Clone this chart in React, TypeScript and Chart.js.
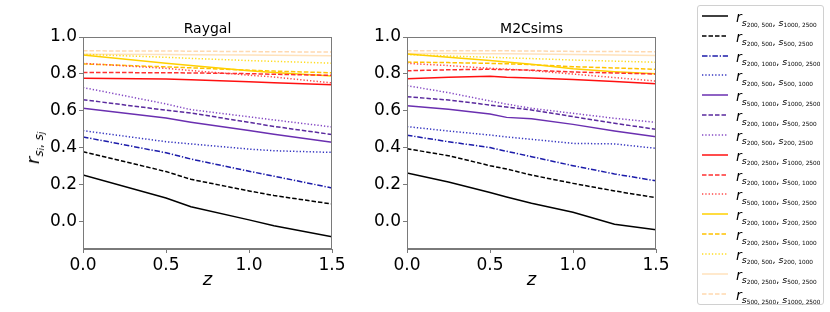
import React, { useEffect, useRef } from "react";
import { Chart, registerables } from "chart.js";

Chart.register(...registerables);

// ---- data ----
const RAYGAL_Z = [0, 0.5, 0.65, 1.0, 1.15, 1.5];
const M2C_Z = [0, 0.25, 0.5, 0.6, 0.75, 1.0, 1.25, 1.5];

const Y_TICKS = [0, 0.2, 0.4, 0.6, 0.8, 1.0];
const X_TICKS = [0, 0.5, 1.0, 1.5];

// Raygal series (legend order)
const ray01 = [0.251, 0.127, 0.079, 0.008, -0.024, -0.083];
const ray02 = [0.378, 0.27, 0.228, 0.165, 0.14, 0.094];
const ray03 = [0.458, 0.372, 0.338, 0.272, 0.245, 0.181];
const ray04 = [0.492, 0.432, 0.42, 0.392, 0.383, 0.374];
const ray05 = [0.613, 0.56, 0.538, 0.493, 0.472, 0.429];
const ray06 = [0.66, 0.603, 0.588, 0.537, 0.515, 0.471];
const ray07 = [0.726, 0.637, 0.606, 0.567, 0.55, 0.512];
const ray08 = [0.776, 0.772, 0.768, 0.757, 0.752, 0.741];
const ray09 = [0.808, 0.806, 0.805, 0.801, 0.798, 0.792];
const ray10 = [0.857, 0.83, 0.818, 0.793, 0.783, 0.751];
const ray11 = [0.902, 0.857, 0.845, 0.817, 0.807, 0.788];
const ray12 = [0.854, 0.838, 0.833, 0.82, 0.815, 0.806];
const ray13 = [0.906, 0.89, 0.884, 0.872, 0.868, 0.858];
const ray14 = [0.907, 0.905, 0.904, 0.902, 0.901, 0.898];
const ray15 = [0.925, 0.924, 0.923, 0.921, 0.92, 0.918];

// M2Csims series (legend order)
const m2c01 = [0.262, 0.213, 0.156, 0.132, 0.098, 0.049, -0.016, -0.045];
const m2c02 = [0.394, 0.356, 0.302, 0.284, 0.251, 0.206, 0.165, 0.128];
const m2c03 = [0.467, 0.432, 0.4, 0.38, 0.351, 0.302, 0.257, 0.22];
const m2c04 = [0.514, 0.49, 0.468, 0.458, 0.445, 0.423, 0.42, 0.396];
const m2c05 = [0.627, 0.608, 0.582, 0.564, 0.557, 0.526, 0.49, 0.459];
const m2c06 = [0.676, 0.658, 0.631, 0.62, 0.604, 0.568, 0.532, 0.499];
const m2c07 = [0.736, 0.698, 0.653, 0.636, 0.613, 0.586, 0.559, 0.537];
const m2c08 = [0.774, 0.782, 0.787, 0.782, 0.778, 0.77, 0.758, 0.747];
const m2c09 = [0.817, 0.822, 0.825, 0.823, 0.82, 0.81, 0.805, 0.799];
const m2c10 = [0.857, 0.845, 0.83, 0.826, 0.818, 0.799, 0.78, 0.761];
const m2c11 = [0.908, 0.89, 0.872, 0.865, 0.852, 0.828, 0.812, 0.8];
const m2c12 = [0.864, 0.861, 0.857, 0.855, 0.85, 0.839, 0.832, 0.825];
const m2c13 = [0.905, 0.897, 0.89, 0.887, 0.883, 0.875, 0.869, 0.863];
const m2c14 = [0.91, 0.91, 0.909, 0.909, 0.908, 0.905, 0.902, 0.9];
const m2c15 = [0.926, 0.926, 0.925, 0.925, 0.924, 0.922, 0.921, 0.92];

// legend labels: [first pair, second pair]
const LABELS: [string, string][] = [
  ["200, 500", "1000, 2500"],
  ["200, 500", "500, 2500"],
  ["200, 1000", "1000, 2500"],
  ["200, 500", "500, 1000"],
  ["500, 1000", "1000, 2500"],
  ["200, 1000", "500, 2500"],
  ["200, 500", "200, 2500"],
  ["200, 2500", "1000, 2500"],
  ["200, 1000", "500, 1000"],
  ["500, 1000", "500, 2500"],
  ["200, 1000", "200, 2500"],
  ["200, 2500", "500, 1000"],
  ["200, 500", "200, 1000"],
  ["200, 2500", "500, 2500"],
  ["500, 2500", "1000, 2500"],
];

const COLORS = [
  "#000000", "#000000", "#1c1caa", "#3434c0",
  "#6a2fb0", "#5a2a9e", "#8448c4",
  "#ff1010", "#ff3030", "#ff4848",
  "#ffd000", "#ffc200", "#ffdc20",
  "#ffe2bc", "#ffd9b0",
];
const STYLES = [
  "solid", "dashed", "dashdot", "dotted",
  "solid", "dashed", "dotted",
  "solid", "dashed", "dotted",
  "solid", "dashed", "dotted",
  "solid", "dashed",
];

const RAYGAL_SERIES = [ray01, ray02, ray03, ray04, ray05, ray06, ray07, ray08, ray09, ray10, ray11, ray12, ray13, ray14, ray15];
const M2C_SERIES = [m2c01, m2c02, m2c03, m2c04, m2c05, m2c06, m2c07, m2c08, m2c09, m2c10, m2c11, m2c12, m2c13, m2c14, m2c15];

const DASHES: Record<string, number[]> = {
  solid: [],
  dashed: [4.5, 2],
  dotted: [1.3, 2],
  dashdot: [5.5, 1.8, 1.3, 1.8],
};

const FONT = "'DejaVu Sans', sans-serif";
const SPINE = "#7a7a7a";

const frameBox = {
  id: "frameBox",
  afterDraw(chart: any) {
    const { ctx, chartArea } = chart;
    ctx.save();
    ctx.strokeStyle = SPINE;
    ctx.lineWidth = 1;
    ctx.strokeRect(
      Math.round(chartArea.left) + 0.5,
      Math.round(chartArea.top) + 0.5,
      Math.round(chartArea.right - chartArea.left) - 1,
      Math.round(chartArea.bottom - chartArea.top) - 1
    );
    ctx.restore();
  },
};

function Panel(props: {
  z: number[];
  series: number[][];
  left: number;
  width: number;
  axisWidth: number;
  rightPad: number;
}) {
  const ref = useRef<HTMLCanvasElement>(null);
  useEffect(() => {
    const datasets = props.series.map((vals, i) => ({
      label: LABELS[i].join(" / "),
      data: vals.map((v, k) => ({ x: props.z[k], y: v })),
      borderColor: COLORS[i],
      backgroundColor: COLORS[i],
      borderWidth: 1.5,
      borderDash: DASHES[STYLES[i]],
      pointRadius: 0,
      tension: 0,
      fill: false,
    }));
    const chart = new Chart(ref.current as HTMLCanvasElement, {
      type: "line",
      data: { datasets },
      plugins: [frameBox],
      options: {
        responsive: false,
        animation: false,
        layout: { padding: { top: 37, right: props.rightPad, left: 0, bottom: 0 } },
        plugins: { legend: { display: false }, tooltip: { enabled: false } },
        scales: {
          x: {
            type: "linear",
            min: 0,
            max: 1.5,
            afterBuildTicks: (s: any) => {
              s.ticks = X_TICKS.map((v) => ({ value: v }));
            },
            afterFit: (s: any) => {
              s.height = 63;
            },
            ticks: {
              color: "#000",
              font: { family: FONT, size: 17 },
              padding: 2,
              maxRotation: 0,
              autoSkip: false,
              callback: (v: any) => Number(v).toFixed(1),
            },
            grid: { drawOnChartArea: false, drawTicks: true, tickLength: 4, color: SPINE },
            border: { color: SPINE },
            title: {
              display: true,
              text: "z",
              color: "#000",
              font: { family: FONT, size: 18, style: "italic" },
              padding: { top: 0, bottom: 21 },
            },
          },
          y: {
            type: "linear",
            min: -0.15,
            max: 1.0,
            afterBuildTicks: (s: any) => {
              s.ticks = Y_TICKS.map((v) => ({ value: v }));
            },
            afterFit: (s: any) => {
              s.width = props.axisWidth;
            },
            ticks: {
              color: "#000",
              font: { family: FONT, size: 17 },
              padding: 2,
              autoSkip: false,
              callback: (v: any) => Number(v).toFixed(1),
            },
            grid: { drawOnChartArea: false, drawTicks: true, tickLength: 4, color: SPINE },
            border: { color: SPINE },
          },
        },
      } as any,
    });
    return () => chart.destroy();
  }, []);
  return (
    <canvas
      ref={ref}
      width={props.width}
      height={312}
      style={{ position: "absolute", left: props.left, top: 0, width: props.width, height: 312 }}
    />
  );
}

function LegendLine(props: { color: string; style: string }) {
  const dash = DASHES[props.style];
  return (
    <svg width={26} height={4} style={{ position: "absolute", left: 0, top: -2 }}>
      <line
        x1={0}
        y1={2}
        x2={26}
        y2={2}
        stroke={props.color}
        strokeWidth={1.5}
        strokeDasharray={dash.length ? dash.join(" ") : undefined}
      />
    </svg>
  );
}

function Label(props: { a: string; b: string }) {
  const sStyle: React.CSSProperties = { fontSize: 9.5, fontStyle: "italic" };
  const dStyle: React.CSSProperties = { fontSize: 5.8, verticalAlign: -1, fontStyle: "normal" };
  return (
    <span style={{ fontFamily: FONT, fontSize: 14, lineHeight: "14px", whiteSpace: "nowrap" }}>
      <span style={{ fontStyle: "italic" }}>r</span>
      <span style={{ fontSize: 9.5, verticalAlign: -3.5 }}>
        <span style={sStyle}>s</span>
        <span style={dStyle}>{props.a}</span>
        <span>, </span>
        <span style={sStyle}>s</span>
        <span style={dStyle}>{props.b}</span>
      </span>
    </span>
  );
}

function Legend() {
  return (
    <div
      style={{
        position: "absolute",
        left: 697,
        top: 5,
        width: 127,
        height: 300,
        border: "1px solid #d0d0d0",
        borderRadius: 3,
        boxSizing: "border-box",
        background: "#fff",
      }}
    >
      {LABELS.map((lab, i) => {
        const y = 15 + i * 19.83 - 5;
        return (
          <div key={i}>
            <div style={{ position: "absolute", left: 4, top: y }}>
              <LegendLine color={COLORS[i]} style={STYLES[i]} />
            </div>
            <div style={{ position: "absolute", left: 38, top: y + 4 - 12 }}>
              <Label a={lab[0]} b={lab[1]} />
            </div>
          </div>
        );
      })}
    </div>
  );
}

export default function App() {
  return (
    <div style={{ position: "absolute", left: 0, top: 0, width: 830, height: 312, background: "#fff", overflow: "hidden" }}>
      <Panel z={RAYGAL_Z} series={RAYGAL_SERIES} left={0} width={350} axisWidth={83} rightPad={18} />
      <Panel z={M2C_Z} series={M2C_SERIES} left={350} width={330} axisWidth={57} rightPad={24} />
      <div style={{ position: "absolute", left: 83, width: 249, top: 20, textAlign: "center", fontFamily: FONT, fontSize: 14, lineHeight: "16px" }}>
        Raygal
      </div>
      <div style={{ position: "absolute", left: 407, width: 249, top: 20, textAlign: "center", fontFamily: FONT, fontSize: 14, lineHeight: "16px" }}>
        M2Csims
      </div>
      <div
        style={{
          position: "absolute",
          left: 37,
          top: 148,
          transform: "translate(-50%, -50%) rotate(-90deg)",
          fontFamily: FONT,
          fontSize: 18,
          lineHeight: "18px",
          whiteSpace: "nowrap",
        }}
      >
        <span style={{ fontStyle: "italic" }}>r</span>
        <span style={{ fontSize: 12, verticalAlign: -4 }}>
          <span style={{ fontStyle: "italic" }}>s</span>
          <span style={{ fontSize: 8.5, fontStyle: "italic", verticalAlign: -1 }}>i</span>
          <span>, </span>
          <span style={{ fontStyle: "italic" }}>s</span>
          <span style={{ fontSize: 8.5, fontStyle: "italic", verticalAlign: -1 }}>j</span>
        </span>
      </div>
      <Legend />
    </div>
  );
}
